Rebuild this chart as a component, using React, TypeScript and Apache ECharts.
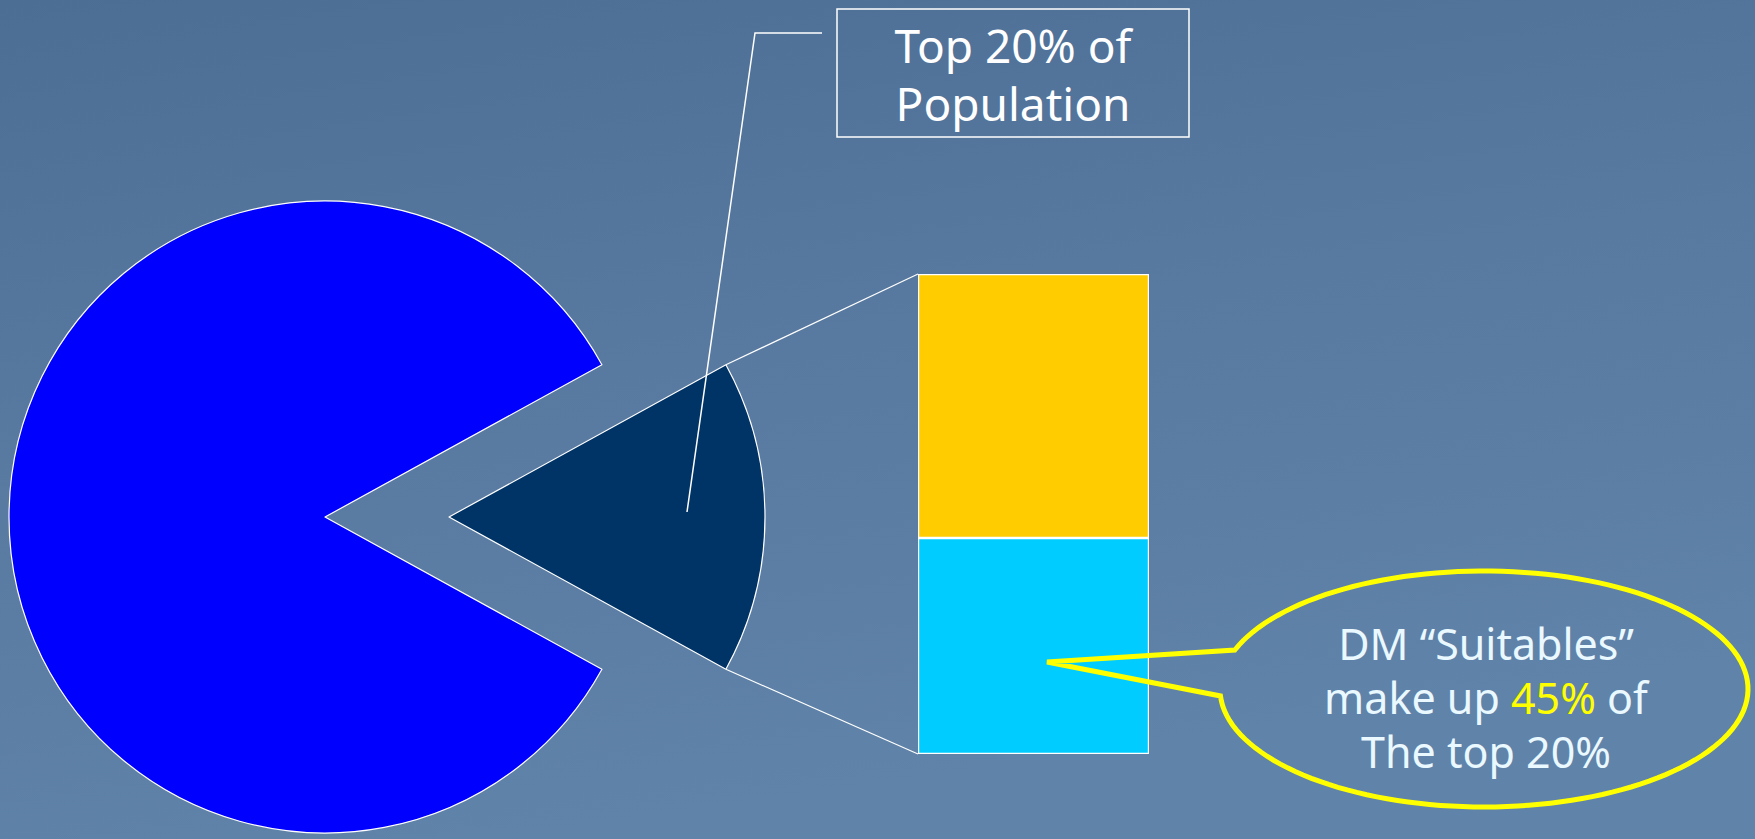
import React, { useEffect, useRef } from "react";
import * as echarts from "echarts";

// ---- data ----
const pieNames = ["Top 20% of Population", "Rest of Population"];
const pieValues = [16, 84];
const pieColors = ["#003366", "#0000ff"];

const barCategories = ["Top 20%"];
const barSeriesNames = ["DM Suitables", "Others"];
const suitableValues = [45];
const otherValues = [55];
const barColors = ["#00ccff", "#ffcc00"];

const topLabelLines = ["Top 20% of", "Population"];
const calloutLines = ["DM “Suitables”", "make up ", "45%", " of", "The top 20%"];

// ---- layout ----
const W = 1755;
const H = 839;
const PIE_CX = 325;
const PIE_CY = 517;
const PIE_R = 316;
const EXPLODE = 124;
const BAR_LEFT = 918;
const BAR_TOP = 274;
const BAR_W = 231;
const BAR_H = 480;

export default function App() {
  const ref = useRef<HTMLDivElement>(null);

  useEffect(() => {
    document.body.style.margin = "0";
    if (!ref.current) return;
    const chart = echarts.init(ref.current, undefined, { renderer: "svg" });

    const total = pieValues.reduce((a, b) => a + b, 0);
    const halfDeg = (pieValues[0] / total) * 180;
    const half = (halfDeg * Math.PI) / 180;
    const sx = PIE_CX + EXPLODE;
    const upper = [sx + PIE_R * Math.cos(half), PIE_CY - PIE_R * Math.sin(half)];
    const lower = [sx + PIE_R * Math.cos(half), PIE_CY + PIE_R * Math.sin(half)];

    // callout ellipse with tail
    const ecx = 1484, ecy = 689, erx = 264, ery = 118;
    const t0 = (199.3 * Math.PI) / 180;
    const t1 = (536.6 * Math.PI) / 180;
    const pts: number[][] = [];
    const N = 140;
    for (let i = 0; i <= N; i++) {
      const t = t0 + ((t1 - t0) * i) / N;
      pts.push([ecx + erx * Math.cos(t), ecy + ery * Math.sin(t)]);
    }
    const calloutPts = [...pts, [1047, 662]];

    const font = "'Noto Sans', sans-serif";

    chart.setOption({
      animation: false,
      backgroundColor: {
        type: "linear",
        x: 0,
        y: 0,
        x2: 0.3,
        y2: 1,
        colorStops: [
          { offset: 0, color: "#4c6e94" },
          { offset: 0.5, color: "#5879a0" },
          { offset: 1, color: "#6083a9" },
        ],
      },
      grid: {
        left: BAR_LEFT,
        top: BAR_TOP,
        width: BAR_W,
        height: BAR_H,
        containLabel: false,
      },
      xAxis: { type: "category", data: barCategories, show: false },
      yAxis: { type: "value", min: 0, max: 100, show: false },
      series: [
        {
          type: "pie",
          center: [PIE_CX, PIE_CY],
          radius: PIE_R,
          startAngle: halfDeg,
          clockwise: true,
          selectedMode: "single",
          selectedOffset: EXPLODE,
          label: { show: false },
          labelLine: { show: false },
          emphasis: { disabled: true },
          itemStyle: { borderColor: "#ffffff", borderWidth: 1.2 },
          data: pieValues.map((v, i) => ({
            name: pieNames[i],
            value: v,
            selected: i === 0,
            itemStyle: { color: pieColors[i] },
          })),
        },
        {
          type: "bar",
          name: barSeriesNames[0],
          stack: "top",
          data: suitableValues,
          barWidth: "100%",
          itemStyle: { color: barColors[0], borderColor: "#ffffff", borderWidth: 1.2 },
          emphasis: { disabled: true },
        },
        {
          type: "bar",
          name: barSeriesNames[1],
          stack: "top",
          data: otherValues,
          barWidth: "100%",
          itemStyle: { color: barColors[1], borderColor: "#ffffff", borderWidth: 1.2 },
          emphasis: { disabled: true },
        },
      ],
      graphic: [
        {
          type: "line",
          shape: { x1: upper[0], y1: upper[1], x2: BAR_LEFT, y2: BAR_TOP },
          style: { stroke: "#ffffff", lineWidth: 1.2 },
          z: 10,
        },
        {
          type: "line",
          shape: { x1: lower[0], y1: lower[1], x2: BAR_LEFT, y2: BAR_TOP + BAR_H },
          style: { stroke: "#ffffff", lineWidth: 1.2 },
          z: 10,
        },
        {
          type: "polyline",
          shape: {
            points: [
              [822, 33],
              [755, 33],
              [687, 512],
            ],
          },
          style: { stroke: "#ffffff", lineWidth: 1.5, fill: null },
          z: 20,
        },
        {
          type: "rect",
          shape: { x: 837, y: 9, width: 352, height: 128 },
          style: { stroke: "#ffffff", lineWidth: 1.5, fill: null },
          z: 20,
        },
        {
          type: "text",
          x: 1013,
          y: 74,
          style: {
            text: topLabelLines.map((l) => `{a|${l}}`).join("\n"),
            align: "center",
            verticalAlign: "middle",
            rich: {
              a: { fill: "#ffffff", font: `46px ${font}`, lineHeight: 58 },
            },
          },
          z: 20,
        },
        {
          type: "polygon",
          shape: { points: calloutPts },
          style: { stroke: "#ffff00", lineWidth: 5, fill: null, lineJoin: "miter" },
          z: 20,
        },
        {
          type: "text",
          x: 1486,
          y: 697,
          style: {
            text:
              `{w|${calloutLines[0]}}\n{w|${calloutLines[1]}}{y|${calloutLines[2]}}{w|${calloutLines[3]}}\n{w|${calloutLines[4]}}`,
            align: "center",
            verticalAlign: "middle",
            rich: {
              w: { fill: "#eaf8ff", font: `43px ${font}`, lineHeight: 54 },
              y: { fill: "#ffff00", font: `43px ${font}`, lineHeight: 54 },
            },
          },
          z: 20,
        },
      ],
    });

    return () => chart.dispose();
  }, []);

  return <div ref={ref} style={{ width: W, height: H }} />;
}
